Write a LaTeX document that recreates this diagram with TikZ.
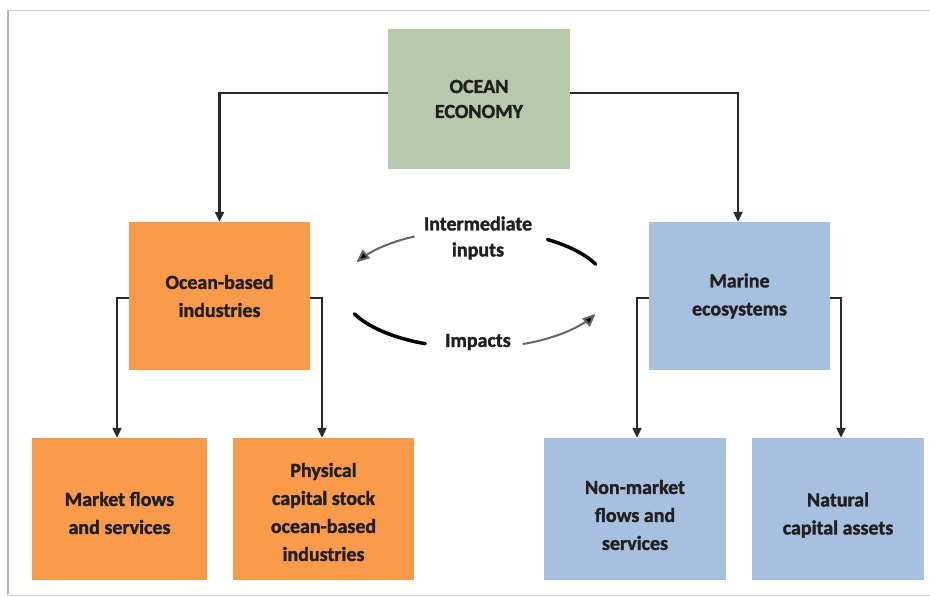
\documentclass[tikz,border=0pt]{standalone}
\usepackage{fontspec}
\setmainfont{Carlito}[BoldFont={Carlito Bold}, BoldFeatures={FakeBold=1.6}]
\usetikzlibrary{arrows.meta}
\definecolor{oegreen}{HTML}{B6CBAC}
\definecolor{oeorange}{HTML}{F99B4B}
\definecolor{oeblue}{HTML}{A7C0E0}
\definecolor{oetext}{HTML}{231F20}
\definecolor{oeline}{HTML}{2A2A2A}
\tikzset{
  box/.style={rectangle, inner sep=0pt, align=center, text=oetext,
    font=\fontsize{20}{28}\selectfont\bfseries},
  conn/.style={draw=oeline, line width=2.2pt,
    -{Triangle[length=10pt,width=9pt]}},
  arcthick/.style={draw=black, line width=3.5pt, line cap=round},
  arcthin/.style={draw=black!60, line width=2pt,
    -{Triangle[length=13pt,width=11pt,fill=black]}},
  lbl/.style={align=center, text=oetext, font=\fontsize{20}{26}\selectfont\bfseries}
}
\newcommand{\lowtext}[3]{\raisebox{-#1}[\height][\depth]{\parbox{#2}{\centering #3}}}
\begin{document}
\begin{tikzpicture}[x=1pt,y=-1pt]
\useasboundingbox (0,0) rectangle (930,597);
\fill[white] (0,0) rectangle (930,597);
% frame
\draw[black!18, line width=1pt] (945,10) -- (7.5,10) -- (7.5,595) -- (945,595);
\draw[black!30, line width=1.5pt] (8,11) -- (8,594);
% boxes
\node[box, fill=oegreen, minimum width=182pt, minimum height=140pt] (oe) at (479,99) {OCEAN\\[-3pt]ECONOMY};
\node[box, fill=oeorange, minimum width=181pt, minimum height=148pt] (obi) at (219.5,296) {Ocean-based\\industries};
\node[box, fill=oeblue, minimum width=181pt, minimum height=148pt] (me) at (739.5,296) {Marine\\ecosystems};
\node[box, fill=oeorange, minimum width=175pt, minimum height=142pt] (mf) at (119.5,509) {\lowtext{4pt}{170pt}{Market flows\\and services}};
\node[box, fill=oeorange, minimum width=181pt, minimum height=142pt] (pc) at (323.5,509) {\lowtext{3pt}{176pt}{Physical\\capital stock\\ocean-based\\industries}};
\node[box, fill=oeblue, minimum width=182pt, minimum height=142pt] (nm) at (635,509) {\lowtext{6pt}{176pt}{Non-market\\flows and\\services}};
\node[box, fill=oeblue, minimum width=172pt, minimum height=142pt] (nc) at (838,509) {\lowtext{6pt}{168pt}{Natural\\capital assets}};
% connectors
\draw[conn] ([yshift=6pt]oe.west) -| (obi.north);
\draw[conn] ([yshift=6pt]oe.east) -| ([xshift=-1.5pt]me.north);
\draw[conn] ([yshift=-2pt]obi.west) -| ([xshift=-2.5pt]mf.north);
\draw[conn] ([yshift=-2pt]obi.east) -| ([xshift=-1.5pt]pc.north);
\draw[conn] ([yshift=-2pt]me.west) -| ([xshift=2pt]nm.north);
\draw[conn] ([yshift=-2pt]me.east) -| ([xshift=3pt]nc.north);
% center cycle
\node[lbl] (ii) at (478,238) {Intermediate\\inputs};
\node[lbl] (im) at (478,342) {Impacts};
\draw[arcthin] plot[domain=117:153, samples=30] ({475+133*cos(\x)},{289-59*sin(\x)});
\draw[arcthick] plot[domain=57:25, samples=30] ({475+133*cos(\x)},{289-59*sin(\x)});
\draw[arcthick] plot[domain=205:248, samples=30] ({475+133*cos(\x)},{289-59*sin(\x)});
\draw[arcthin] plot[domain=291:335, samples=30] ({475+133*cos(\x)},{289-59*sin(\x)});
\end{tikzpicture}
\end{document}
